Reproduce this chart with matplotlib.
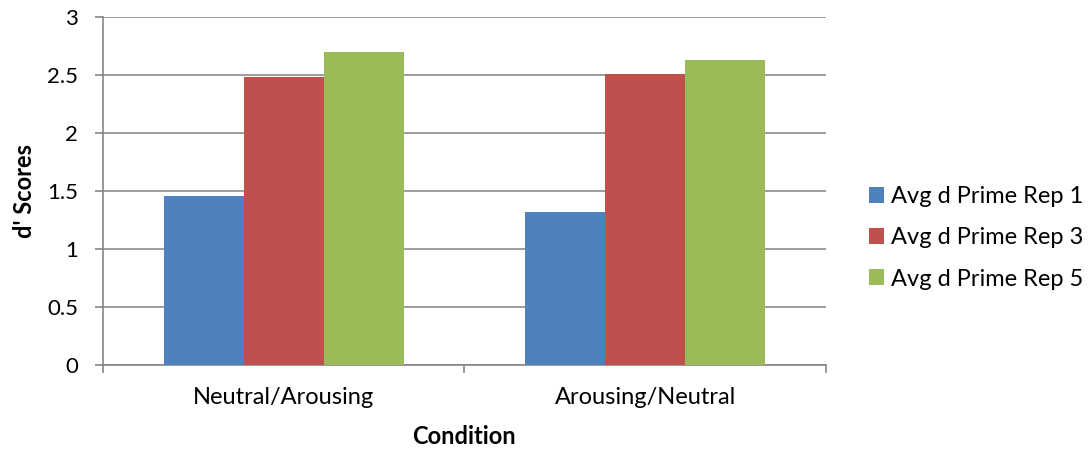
import numpy as np
import matplotlib
matplotlib.use("Agg")
import matplotlib.pyplot as plt

# data
conditions = ["Neutral/Arousing", "Arousing/Neutral"]
series_names = ["Avg d Prime Rep 1", "Avg d Prime Rep 3", "Avg d Prime Rep 5"]
rep1 = [1.46, 1.32]
rep3 = [2.48, 2.51]
rep5 = [2.70, 2.63]
colors = ["#4F81BD", "#C0504D", "#9BBB59"]

plt.rcParams['font.family'] = ['Lato', 'DejaVu Sans']

fig = plt.figure(figsize=(10.92, 4.55), dpi=100)
ax = fig.add_axes([0.0943, 0.1978, 0.662, 0.7648])

x = np.arange(len(conditions))
width = 0.221
for i, (vals, name, c) in enumerate(zip([rep1, rep3, rep5], series_names, colors)):
    ax.bar(x + (i - 1) * width, vals, width, color=c, label=name, zorder=3)

ax.set_xlim(-0.5, 1.5)
ax.set_ylim(0, 3)
ax.set_yticks(np.arange(0, 3.01, 0.5))
ax.set_yticklabels(["0", "0.5", "1", "1.5", "2", "2.5", "3"], fontsize=16)
ax.yaxis.grid(True, color="#8c8c8c", linewidth=1.2, zorder=0)

# category labels centred, tick marks at category boundaries
ax.set_xticks(x)
ax.set_xticklabels(conditions, fontsize=17)
ax.tick_params(axis='x', length=0, pad=16)
ax.set_xticks([-0.5, 0.5, 1.5], minor=True)
ax.tick_params(axis='x', which='minor', length=6, color="#868686", width=1.2)
ax.tick_params(axis='y', length=6, color="#868686", width=1.2, pad=12)

for s in ['top', 'right']:
    ax.spines[s].set_visible(False)
for s in ['left', 'bottom']:
    ax.spines[s].set_color("#868686")
    ax.spines[s].set_linewidth(1.2)

ax.set_xlabel("Condition", fontsize=17, fontweight='bold', labelpad=12)
ax.set_ylabel("d' Scores", fontsize=17, fontweight='bold', labelpad=8)

fig.legend(loc='center left', bbox_to_anchor=(0.796, 0.477), frameon=False,
           fontsize=17, handlelength=0.64, handleheight=0.64, handletextpad=0.28,
           labelspacing=0.85, borderpad=0, borderaxespad=0)

fig.savefig("out.png", dpi=100)
